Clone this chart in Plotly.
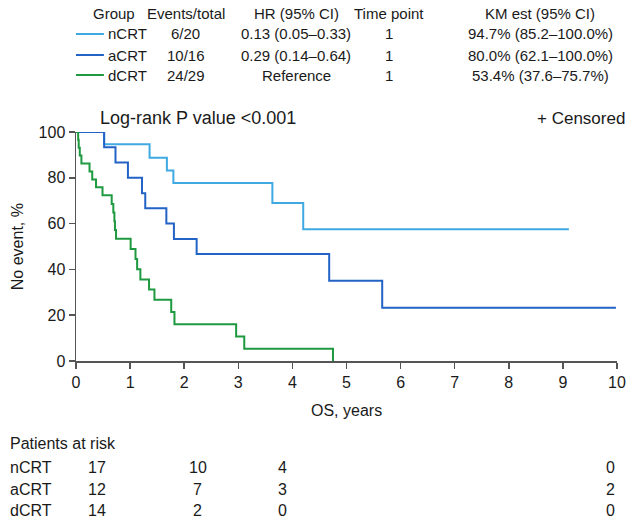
import plotly.graph_objects as go

# ---------------- data ----------------
groups = ["nCRT", "aCRT", "dCRT"]
events_total = ["6/20", "10/16", "24/29"]
hr_ci = ["0.13 (0.05\u20130.33)", "0.29 (0.14\u20130.64)", "Reference"]
time_point = ["1", "1", "1"]
km_est = ["94.7% (85.2\u2013100.0%)", "80.0% (62.1\u2013100.0%)", "53.4% (37.6\u201375.7%)"]

ncrt_t = [0, 0.52, 1.36, 1.68, 1.80, 3.63, 4.20, 9.11]
ncrt_s = [100, 94.7, 88.8, 83.2, 77.7, 69.0, 57.5, 57.5]

acrt_t = [0, 0.52, 0.73, 0.96, 1.22, 1.28, 1.67, 1.81, 2.23, 4.68, 5.66, 9.98]
acrt_s = [100, 93.3, 86.7, 80.0, 73.3, 66.7, 60.0, 53.3, 46.7, 35.0, 23.3, 23.3]

dcrt_t = [0, 0.04, 0.05, 0.07, 0.10, 0.25, 0.30, 0.37, 0.49, 0.66, 0.69, 0.71, 0.72, 0.74,
          1.01, 1.10, 1.13, 1.19, 1.35, 1.45, 1.76, 1.82, 2.96, 3.11, 4.75]
dcrt_s = [100, 96.6, 93.1, 89.7, 86.2, 82.8, 79.3, 75.9, 72.4, 68.6, 64.8, 61.0, 57.2, 53.4,
          48.9, 44.5, 40.1, 35.6, 31.2, 26.7, 21.4, 16.0, 10.7, 5.3, 0]

risk_ncrt = ["17", "10", "4", "0"]
risk_acrt = ["12", "7", "3", "2"]
risk_dcrt = ["14", "2", "0", "0"]

x_ticks = list(range(0, 11))
y_ticks = [0, 20, 40, 60, 80, 100]

# ---------------- styles / layout ----------------
colors = ["#3FA9E2", "#2363C6", "#1E9940"]
FONT = "Liberation Sans, Arial, Helvetica, sans-serif"
TXT = "#1a1a1a"
W, H = 638, 522
L, R, T, B = 76, 19, 132, 161  # plot area margins
pw, ph = W - L - R, H - T - B

def px(x):
    return (x - L) / pw

def py(y):
    return (H - B - y) / ph

fig = go.Figure()
for name, t, s, c in zip(groups, [ncrt_t, acrt_t, dcrt_t], [ncrt_s, acrt_s, dcrt_s], colors):
    fig.add_trace(go.Scatter(x=t, y=s, mode="lines", line=dict(color=c, width=2, shape="hv"),
                             name=name, showlegend=False, hoverinfo="skip"))

ann = []
def text(x, y, s, size=15, anchor="center", angle=0):
    ann.append(dict(x=px(x), y=py(y), xref="paper", yref="paper", text=s, showarrow=False,
                    xanchor=anchor, yanchor="middle", textangle=angle,
                    font=dict(family=FONT, size=size, color=TXT)))

# top table
col_x = [114, 186, 297, 390, 542]
headers = ["Group", "Events/total", "HR (95% CI)", "Time point", "KM est (95% CI)"]
row_y = [13, 34, 55, 75]
for cx, h in zip(col_x, headers):
    text(cx, row_y[0], h)
shapes = []
for i, g in enumerate(groups):
    yy = row_y[i + 1]
    shapes.append(dict(type="line", xref="paper", yref="paper", x0=px(76), x1=px(104),
                       y0=py(yy), y1=py(yy), line=dict(color=colors[i], width=2)))
    text(106, yy, g, anchor="left")
    text(col_x[1], yy, events_total[i])
    text(col_x[2], yy, hr_ci[i])
    text(col_x[3], yy, time_point[i])
    text(col_x[4], yy, km_est[i])

# plot annotations
text(198, 118, "Log-rank P value <0.001", size=18)
text(629, 118, "+ Censored", size=17, anchor="right")
text(17, 247, "No event, %", size=16, angle=-90)
text(348, 410, "OS, years", size=16)

# risk table
text(8, 443, "Patients at risk", size=16, anchor="left")
risk_x = [97, 198, 283, 612]
for i, (g, rr) in enumerate(zip(groups, [risk_ncrt, risk_acrt, risk_dcrt])):
    yy = [468, 489, 510][i]
    text(8, yy, g, size=16, anchor="left")
    for xx, v in zip(risk_x, rr):
        text(xx, yy, v, size=16)

axis_common = dict(showline=True, linecolor="#555555", linewidth=1.5, ticks="outside",
                   ticklen=6, tickwidth=1.5, tickcolor="#555555", showgrid=False, zeroline=False,
                   tickfont=dict(family=FONT, size=16, color=TXT))
fig.update_layout(
    width=W, height=H, margin=dict(l=L, r=R, t=T, b=B),
    paper_bgcolor="white", plot_bgcolor="white",
    xaxis=dict(range=[0, 10], tickvals=x_ticks, **axis_common),
    yaxis=dict(range=[0, 100], tickvals=y_ticks, **axis_common),
    annotations=ann, shapes=shapes,
)
fig.write_html("out.html", config={"displayModeBar": False, "staticPlot": True},
               post_script="document.body.style.margin='0';document.body.style.padding='0';"
                           "document.body.style.overflow='hidden';")
